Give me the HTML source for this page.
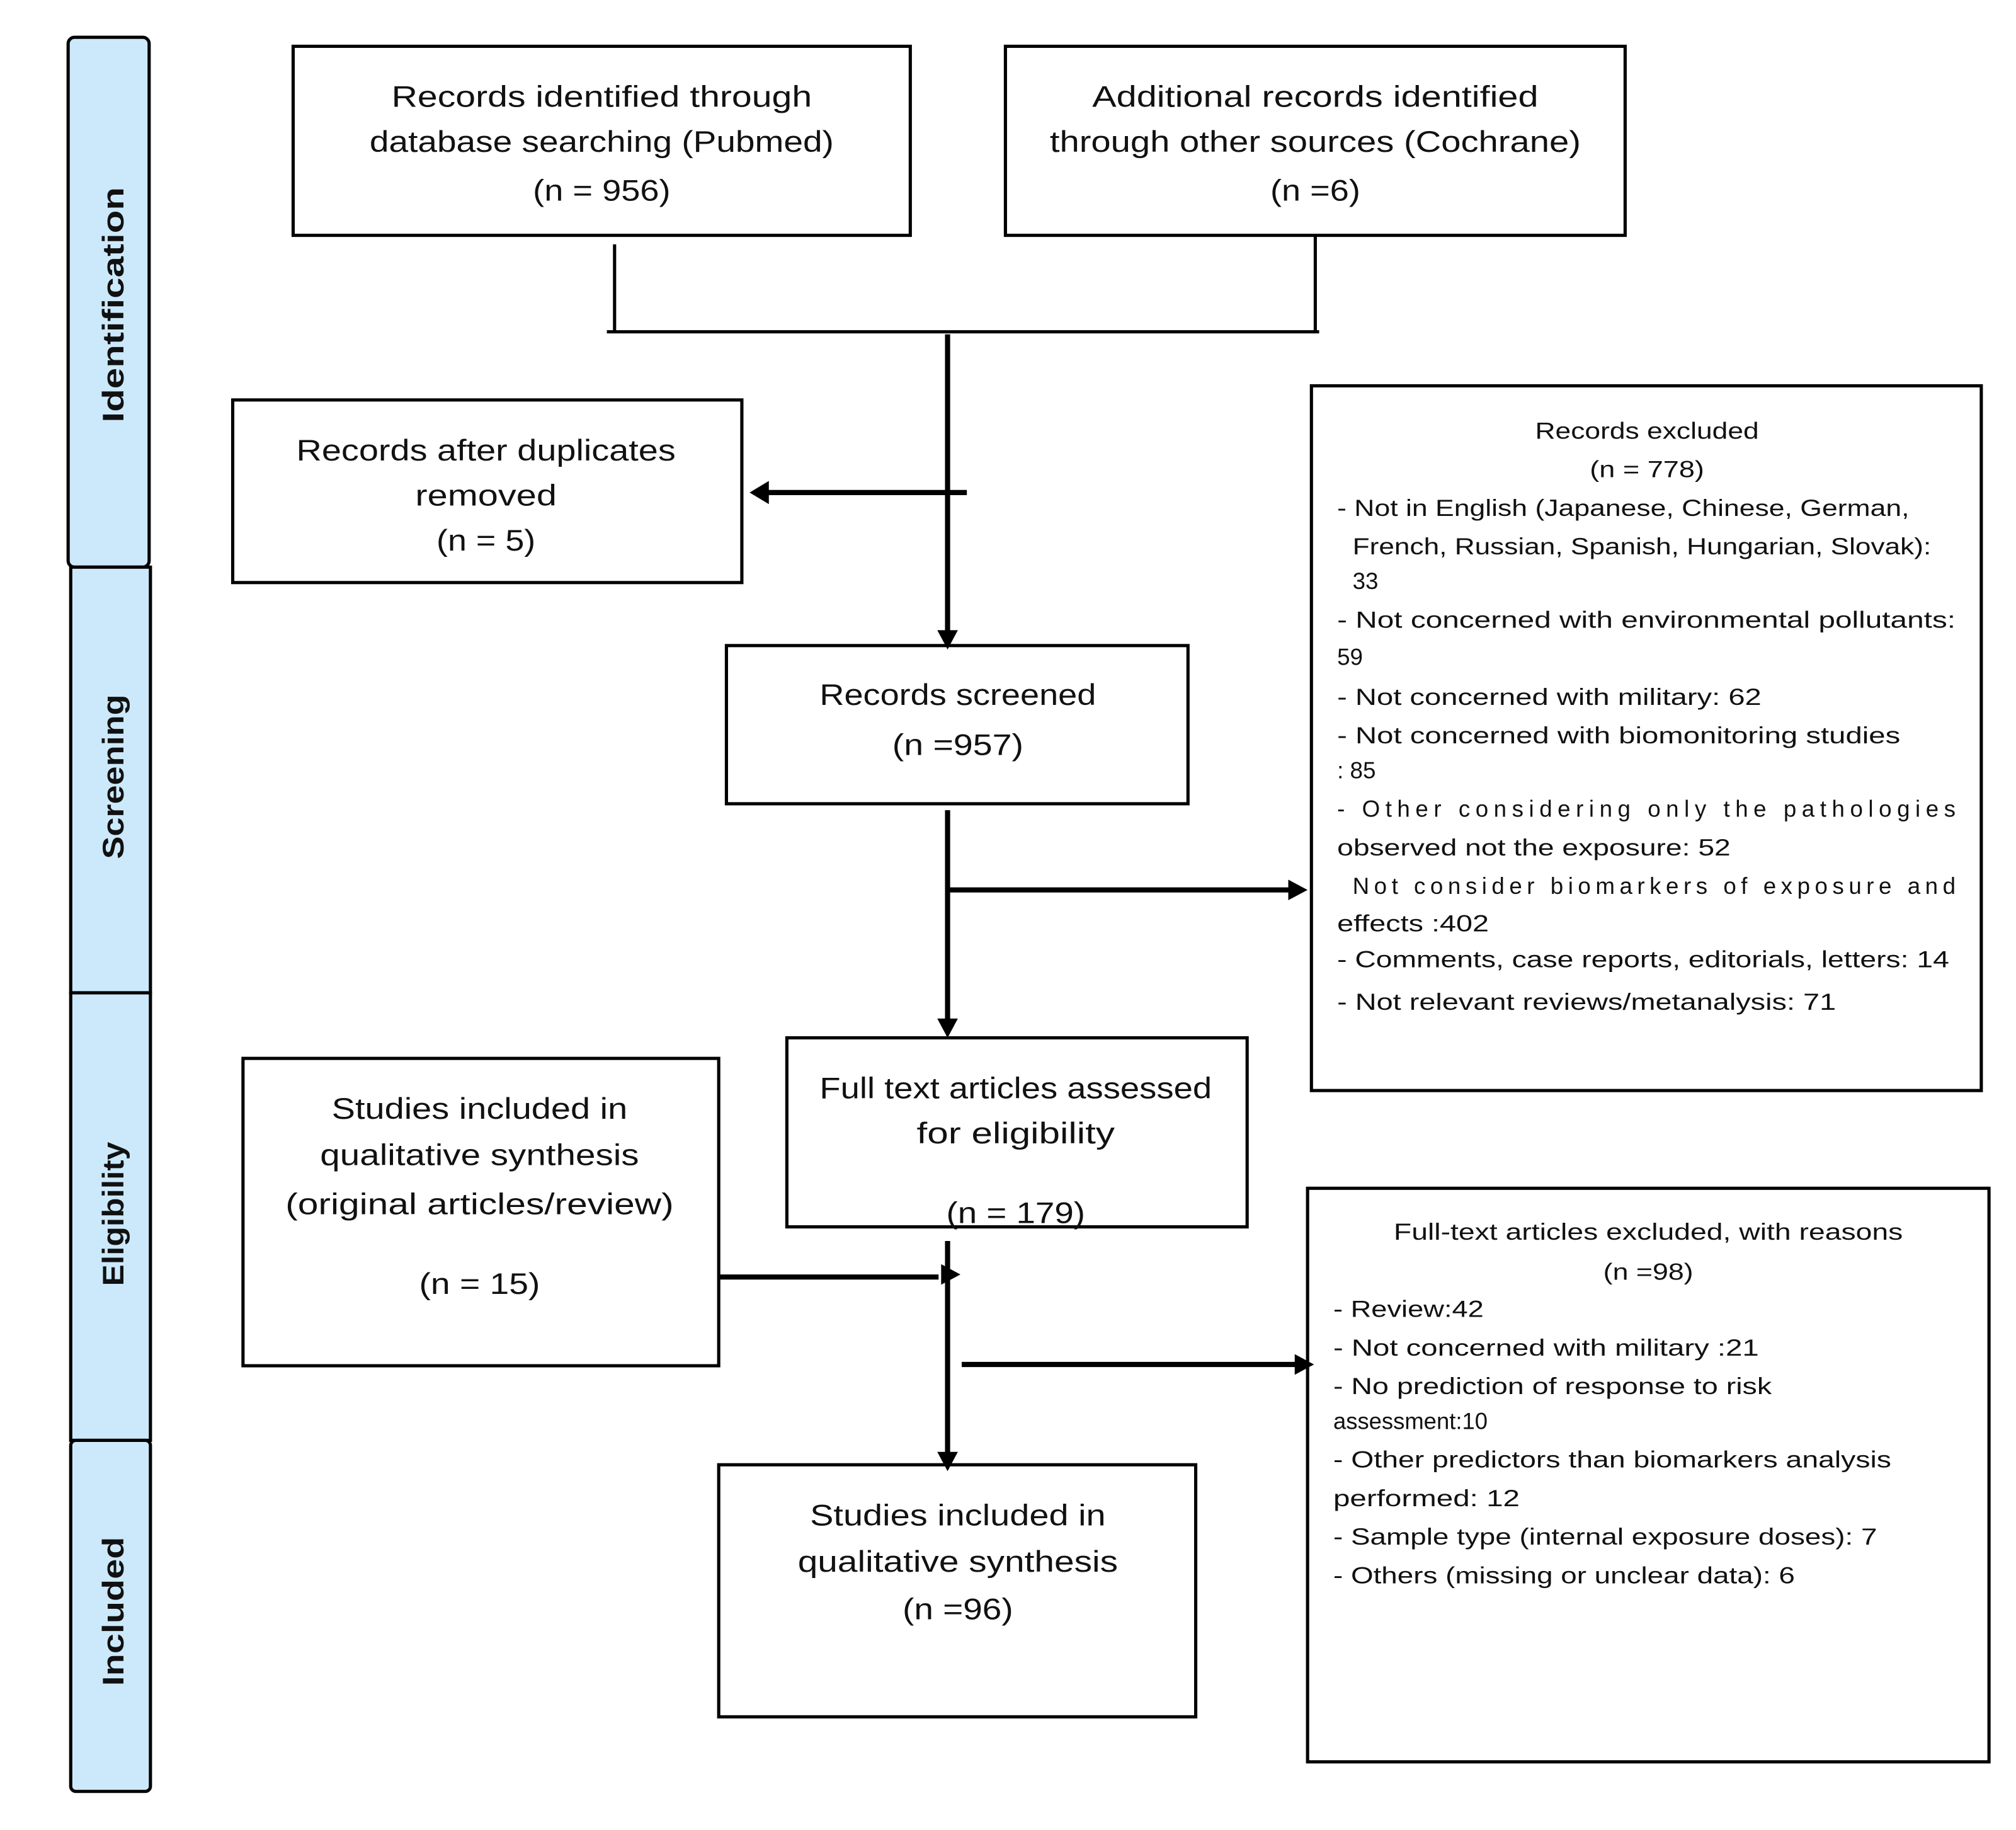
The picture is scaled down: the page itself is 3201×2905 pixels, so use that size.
<!DOCTYPE html>
<html><head><meta charset="utf-8"><style>
html,body{margin:0;padding:0;background:#fff;width:3201px;height:2905px;overflow:hidden}
svg{display:block}
text{font-family:"Liberation Sans",sans-serif;fill:#111}
.m{font-size:23px;text-anchor:middle;dominant-baseline:central}
.s{font-size:18px;dominant-baseline:central}
.sc{font-size:18px;text-anchor:middle;dominant-baseline:central}
.v{font-size:23px;font-weight:bold;text-anchor:middle;dominant-baseline:central}
</style></head><body>
<svg width="3201" height="2905" viewBox="0 0 1568 1423" preserveAspectRatio="none" xmlns="http://www.w3.org/2000/svg">
<g fill="#cce9fb" stroke="#000" stroke-width="2.5">
<rect x="53" y="29" width="63" height="412" rx="5"/>
<rect x="55" y="441" width="62" height="331"/>
<rect x="55" y="772" width="62" height="348"/>
<rect x="55" y="1120" width="62" height="273" rx="4"/>
</g>
<text class="v" transform="translate(88,237) rotate(-90)" textLength="183" lengthAdjust="spacingAndGlyphs">Identification</text>
<text class="v" transform="translate(88,604) rotate(-90)" textLength="128" lengthAdjust="spacingAndGlyphs">Screening</text>
<text class="v" transform="translate(88,944) rotate(-90)" textLength="112" lengthAdjust="spacingAndGlyphs">Eligibility</text>
<text class="v" transform="translate(88,1253) rotate(-90)" textLength="116" lengthAdjust="spacingAndGlyphs">Included</text>

<g fill="none" stroke="#000" stroke-width="2.5">
<rect x="228" y="36" width="480" height="147"/>
<rect x="782" y="36" width="482" height="147"/>
<rect x="181" y="311" width="396" height="142"/>
<rect x="1020" y="300" width="521" height="548"/>
<rect x="565" y="502" width="359" height="123"/>
<rect x="612" y="807" width="358" height="147"/>
<rect x="189" y="823" width="370" height="239"/>
<rect x="1017" y="924" width="530" height="446"/>
<rect x="559" y="1139" width="371" height="196"/>
<path d="M478 190V258M1023 183V258M472 258H1026"/>
</g>
<g fill="none" stroke="#000" stroke-width="4">
<path d="M737 260V492M752 383H592M737 630V795M737 692H1005M559 993H730M737 965V1130M748 1061H1010"/>
</g>
<g fill="#000">
<polygon points="583,383 598,374 598,392"/>
<polygon points="737,505 729,490 745,490"/>
<polygon points="737,807 729,792 745,792"/>
<polygon points="1017,692 1002,684 1002,700"/>
<polygon points="747,991 732,983 732,999"/>
<polygon points="737,1144 729,1129 745,1129"/>
<polygon points="1022,1061 1007,1053 1007,1069"/>
</g>

<text class="m" x="468" y="75" textLength="327" lengthAdjust="spacingAndGlyphs">Records identified through</text>
<text class="m" x="468" y="110" textLength="361" lengthAdjust="spacingAndGlyphs">database searching (Pubmed)</text>
<text class="m" x="468" y="148" textLength="107" lengthAdjust="spacingAndGlyphs">(n = 956)</text>
<text class="m" x="1023" y="75" textLength="347" lengthAdjust="spacingAndGlyphs">Additional records identified</text>
<text class="m" x="1023" y="110" textLength="413" lengthAdjust="spacingAndGlyphs">through other sources (Cochrane)</text>
<text class="m" x="1023" y="148" textLength="70" lengthAdjust="spacingAndGlyphs">(n =6)</text>
<text class="m" x="378" y="350" textLength="295" lengthAdjust="spacingAndGlyphs">Records after duplicates</text>
<text class="m" x="378" y="385" textLength="110" lengthAdjust="spacingAndGlyphs">removed</text>
<text class="m" x="378" y="420" textLength="77" lengthAdjust="spacingAndGlyphs">(n = 5)</text>
<text class="m" x="745" y="540" textLength="215" lengthAdjust="spacingAndGlyphs">Records screened</text>
<text class="m" x="745" y="579" textLength="102" lengthAdjust="spacingAndGlyphs">(n =957)</text>
<text class="m" x="790" y="846" textLength="305" lengthAdjust="spacingAndGlyphs">Full text articles assessed</text>
<text class="m" x="790" y="881" textLength="154" lengthAdjust="spacingAndGlyphs">for eligibility</text>
<text class="m" x="790" y="943" textLength="108" lengthAdjust="spacingAndGlyphs">(n = 179)</text>
<text class="m" x="373" y="862" textLength="230" lengthAdjust="spacingAndGlyphs">Studies included in</text>
<text class="m" x="373" y="898" textLength="248" lengthAdjust="spacingAndGlyphs">qualitative synthesis</text>
<text class="m" x="373" y="936" textLength="302" lengthAdjust="spacingAndGlyphs">(original articles/review)</text>
<text class="m" x="373" y="998" textLength="94" lengthAdjust="spacingAndGlyphs">(n = 15)</text>
<text class="m" x="745" y="1178" textLength="230" lengthAdjust="spacingAndGlyphs">Studies included in</text>
<text class="m" x="745" y="1214" textLength="249" lengthAdjust="spacingAndGlyphs">qualitative synthesis</text>
<text class="m" x="745" y="1251" textLength="86" lengthAdjust="spacingAndGlyphs">(n =96)</text>

<text class="sc" x="1281" y="335" textLength="174" lengthAdjust="spacingAndGlyphs">Records excluded</text>
<text class="sc" x="1281" y="365" textLength="89" lengthAdjust="spacingAndGlyphs">(n = 778)</text>
<text class="s" x="1040" y="395" textLength="445" lengthAdjust="spacingAndGlyphs">- Not in English (Japanese, Chinese, German,</text>
<text class="s" x="1052" y="425" textLength="450" lengthAdjust="spacingAndGlyphs">French, Russian, Spanish, Hungarian, Slovak):</text>
<text class="s" x="1052" y="452">33</text>
<text class="s" x="1040" y="482" textLength="481" lengthAdjust="spacingAndGlyphs">- Not concerned with environmental pollutants:</text>
<text class="s" x="1040" y="511">59</text>
<text class="s" x="1040" y="542" textLength="330" lengthAdjust="spacingAndGlyphs">- Not concerned with military: 62</text>
<text class="s" x="1040" y="572" textLength="438" lengthAdjust="spacingAndGlyphs">- Not concerned with biomonitoring studies</text>
<text class="s" x="1040" y="599">: 85</text>
<text class="s" x="1040" y="629" textLength="481" lengthAdjust="spacing">-   Other  considering  only  the  pathologies</text>
<text class="s" x="1040" y="659" textLength="306" lengthAdjust="spacingAndGlyphs">observed not the exposure: 52</text>
<text class="s" x="1052" y="689" textLength="469" lengthAdjust="spacing">Not  consider  biomarkers  of  exposure  and</text>
<text class="s" x="1040" y="718" textLength="118" lengthAdjust="spacingAndGlyphs">effects :402</text>
<text class="s" x="1040" y="746" textLength="476" lengthAdjust="spacingAndGlyphs">- Comments, case reports, editorials, letters: 14</text>
<text class="s" x="1040" y="779" textLength="388" lengthAdjust="spacingAndGlyphs">- Not relevant reviews/metanalysis: 71</text>

<text class="sc" x="1282" y="958" textLength="396" lengthAdjust="spacingAndGlyphs">Full-text articles excluded, with reasons</text>
<text class="sc" x="1282" y="989" textLength="70" lengthAdjust="spacingAndGlyphs">(n =98)</text>
<text class="s" x="1037" y="1018" textLength="117" lengthAdjust="spacingAndGlyphs">- Review:42</text>
<text class="s" x="1037" y="1048" textLength="331" lengthAdjust="spacingAndGlyphs">- Not concerned with military :21</text>
<text class="s" x="1037" y="1078" textLength="341" lengthAdjust="spacingAndGlyphs">- No prediction of response to risk</text>
<text class="s" x="1037" y="1105" textLength="120" lengthAdjust="spacingAndGlyphs">assessment:10</text>
<text class="s" x="1037" y="1135" textLength="434" lengthAdjust="spacingAndGlyphs">- Other predictors than biomarkers analysis</text>
<text class="s" x="1037" y="1165" textLength="145" lengthAdjust="spacingAndGlyphs">performed: 12</text>
<text class="s" x="1037" y="1195" textLength="423" lengthAdjust="spacingAndGlyphs">- Sample type (internal exposure doses): 7</text>
<text class="s" x="1037" y="1225" textLength="359" lengthAdjust="spacingAndGlyphs">- Others (missing or unclear data): 6</text>
</svg>
</body></html>
